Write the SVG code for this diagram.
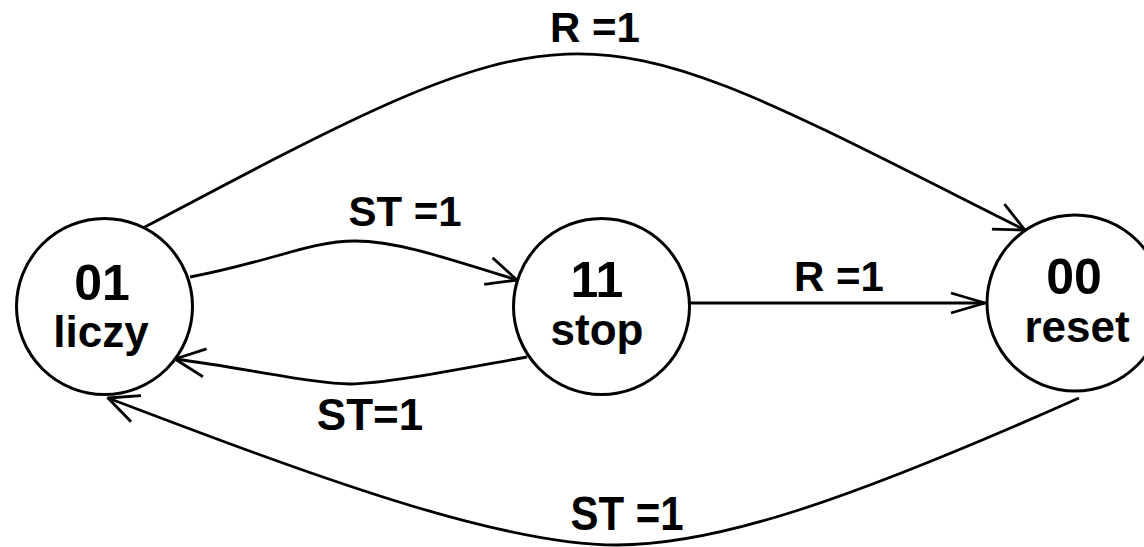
<svg xmlns="http://www.w3.org/2000/svg" width="1144" height="547" viewBox="0 0 1144 547">
  <style>
    .state circle { fill: #fff; stroke: #000; stroke-width: 3; }
    .state text, .label { font-family: "Liberation Sans", Arial, sans-serif; font-weight: bold; text-anchor: middle; fill: #000; }
    .code { font-size: 50px; }
    .name { font-size: 44px; }
    .label { font-size: 42px; }
    .edge { fill: none; stroke: #000; stroke-width: 2.8; marker-end: url(#arrow); }
    .edge.straight { marker-end: url(#arrow-narrow); }
    .head { fill: none; stroke: #000; stroke-width: 2.8; stroke-linejoin: round; }
  </style>
  <defs>
    <!-- open V arrowheads, drawn in user units -->
    <marker id="arrow" markerUnits="userSpaceOnUse" orient="auto" refX="0" refY="0" markerWidth="1" markerHeight="1" overflow="visible">
      <path class="head" d="M-30,-14 L0,0 L-30,14"/>
    </marker>
    <marker id="arrow-narrow" markerUnits="userSpaceOnUse" orient="auto" refX="0" refY="0" markerWidth="1" markerHeight="1" overflow="visible">
      <path class="head" d="M-34,-10 L0,0 L-34,10"/>
    </marker>
  </defs>

  <rect width="1144" height="547" fill="#fff"/>

  <g id="connectors">
    <!-- 01 -> 00, R=1 (top arc) -->
    <path class="edge" d="M143,228 C596,-12 572,3 1025,230"/>
    <!-- 01 -> 11, ST=1 -->
    <path class="edge" d="M190,277 C270,262 310,241 355,241 C395,241 440,256 517,280"/>
    <!-- 11 -> 01, ST=1 -->
    <path class="edge" d="M527,357 C460,369 385,384 350,384 C315,384 245,368 175,359"/>
    <!-- 11 -> 00, R=1 -->
    <path class="edge straight" d="M690,303 L985,303"/>
    <!-- 00 -> 01, ST=1 (bottom arc) -->
    <path class="edge" d="M1079,398 C850,500 717,545 617,545 C497,545 308,474 108,398"/>

    <text class="label" x="595" y="42">R =1</text>
    <text class="label" x="405" y="226">ST =1</text>
    <text class="label" x="370" y="430" style="font-size:44px">ST=1</text>
    <text class="label" x="839" y="291">R =1</text>
    <text class="label" transform="translate(627,530) scale(1,1.15)" x="0" y="0">ST =1</text>
  </g>

  <g id="state-01" class="state">
    <circle cx="104.5" cy="306.5" r="88"/>
    <text class="code" x="102" y="300">01</text>
    <text class="name" x="101" y="347">liczy</text>
  </g>

  <g id="state-11" class="state">
    <circle cx="601.5" cy="306.5" r="88"/>
    <text class="code" x="597" y="297">11</text>
    <text class="name" x="597" y="345">stop</text>
  </g>

  <g id="state-00" class="state">
    <circle cx="1075" cy="303" r="88"/>
    <text class="code" x="1074" y="294">00</text>
    <text class="name" x="1077" y="342">reset</text>
  </g>
</svg>
